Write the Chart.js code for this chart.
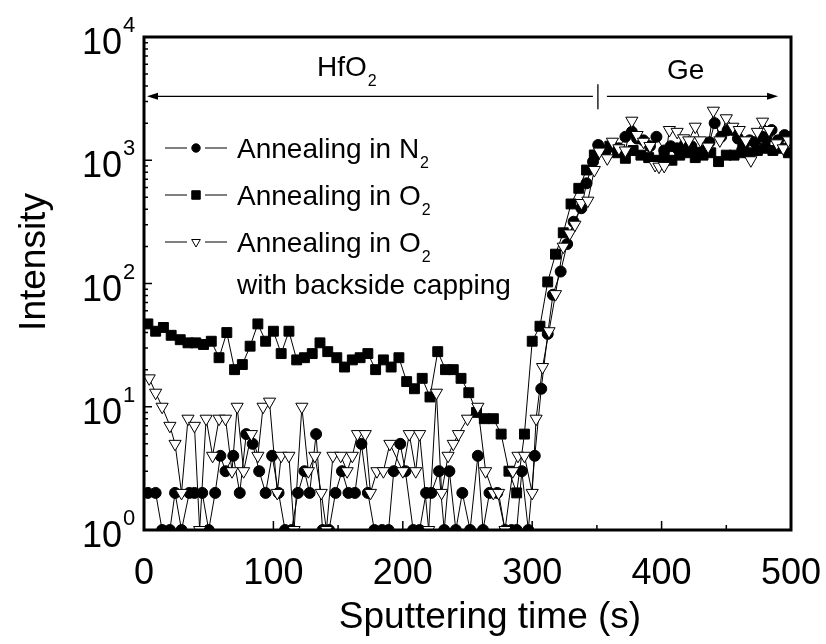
<!DOCTYPE html>
<html>
<head>
<meta charset="utf-8">
<title>Intensity vs sputtering time</title>
<script src="https://cdn.jsdelivr.net/npm/chart.js@4.4.1/dist/chart.umd.min.js"></script>
<style>
    html, body { margin: 0; padding: 0; background: #ffffff; }
    canvas { display: block; }
</style>
</head>
<body>
<canvas id="depth-profile-chart" width="826" height="644"></canvas>
<script>
// Annealing in N2 (filled circles)
const n2Time = [3, 9, 14, 20, 24, 29, 35, 39, 45, 50, 55, 59, 63, 69, 74, 79, 84, 89, 94, 99,
    104, 109, 114, 119, 124, 128, 133, 138, 143, 148, 153, 158, 163, 168, 173, 178, 184, 189, 193, 198,
    202, 208, 213, 218, 222, 228, 232, 236, 241, 246, 252, 258, 262, 267, 273, 279, 284, 288, 292, 297,
    302, 307, 312, 316, 322, 327, 332, 338, 342, 347, 351, 357, 362, 367, 372, 377, 381, 386, 391, 396,
    402, 407, 412, 418, 423, 428, 433, 437, 441, 446, 451, 455, 459, 463, 468, 472, 478, 481, 485, 490,
    495, 499];
const n2Values = [2, 2, 1, 1, 2, 1, 2, 2, 2, 1, 2, 4, 3, 4, 2, 6, 5, 3, 2, 4,
    2, 1, 1, 2, 3, 2, 6, 1, 1, 2, 3, 2, 2, 5, 2, 1, 1, 1, 3, 5,
    3, 1, 1, 2, 2, 3, 1, 3, 1, 2, 1, 4, 1, 2, 2, 1, 1, 1, 3, 1,
    4, 14, 39, 81, 125, 209, 317, 408, 650, 973, 1330, 1200, 1300, 1250, 1550, 1700, 1500, 1450, 1300, 1550,
    1200, 1300, 1250, 1350, 1300, 1150, 1200, 1400, 2000, 1550, 1750, 1760, 1500, 1300, 1450, 1400, 1550, 1500, 1760, 1450,
    1600, 1550];

// Annealing in O2 (filled squares)
const o2Time = [3, 9, 15, 21, 28, 34, 40, 46, 52, 58, 64, 70, 76, 82, 88, 94, 100, 106, 112, 118,
    124, 130, 136, 142, 149, 155, 161, 167, 173, 179, 185, 191, 197, 203, 209, 215, 221, 227, 233, 239,
    245, 251, 257, 263, 270, 276, 282, 288, 294, 300, 306, 312, 318, 324, 330, 336, 342, 348, 354, 360,
    366, 372, 378, 384, 390, 396, 402, 408, 414, 420, 426, 432, 438, 444, 450, 456, 462, 468, 474, 480,
    486, 492, 498];
const o2Values = [47, 41, 44, 38, 35, 33, 33, 32, 34, 25, 40, 20, 22, 31, 47, 34, 41, 27, 41, 24,
    25, 27, 33, 28, 25, 21, 24, 25, 27, 20, 24, 21, 25, 16, 14, 17, 12, 28, 20, 20,
    17, 13, 9, 8, 8, 6, 3, 2, 6, 34, 45, 103, 173, 258, 442, 592, 833, 1104, 1211, 1300,
    1150, 1037, 1200, 1100, 1050, 1000, 1050, 1000, 1100, 1150, 1050, 1100, 1150, 975, 1100, 1100, 1150, 1150, 1200, 1250,
    1200, 1250, 1150];

// Annealing in O2 with backside capping (open down triangles)
const capTime = [4, 9, 14, 20, 24, 29, 34, 39, 43, 48, 53, 58, 63, 68, 72, 77, 83, 88, 92, 97,
    103, 106, 112, 116, 122, 127, 132, 137, 141, 146, 152, 157, 161, 165, 171, 175, 180, 185, 190, 200,
    205, 210, 213, 220, 226, 230, 235, 239, 243, 250, 258, 264, 270, 274, 279, 285, 289, 294, 300, 303,
    308, 313, 318, 324, 329, 333, 338, 343, 348, 352, 358, 362, 367, 372, 377, 381, 386, 391, 395, 398,
    402, 406, 412, 417, 421, 426, 430, 436, 440, 445, 450, 455, 460, 465, 469, 474, 478, 483, 489, 494,
    498];
const capValues = [17, 13, 10, 7, 5, 2, 8, 7, 1, 8, 4, 8, 8, 3, 10, 3, 6, 4, 10, 11,
    2, 4, 4, 1, 10, 3, 4, 2, 1, 4, 4, 3, 4, 6, 6, 2, 3, 3, 5, 3,
    6, 3, 6, 1, 13, 2, 4, 5, 6, 8, 10, 3, 2, 2, 1, 3, 4, 4, 2, 8,
    21, 41, 82, 199, 255, 300, 450, 470, 833, 1175, 1037, 1414, 1250, 1200, 2094, 1603, 1414, 1306, 915, 887,
    900, 1760, 1700, 1507, 1450, 1872, 1450, 1290, 2523, 1450, 2190, 1870, 1760, 1450, 1000, 1700, 2056, 1760, 1371, 1250,
    1450];

// Оси
const xTicks = [0, 100, 200, 300, 400, 500];
const yExponents = [0, 1, 2, 3, 4];

// Границы слоёв для стрелок HfO2 / Ge
const layerBoundary = 350;
const arrowEnd = 490;
const arrowLevel = 3300;

const FONT = '"Liberation Sans", Arial, sans-serif';

/**
 * Превращает два массива в точки {x, y}
 */
function toPoints(times, values) {
    return times.map((t, i) => ({ x: t, y: values[i] }));
}

/**
 * Текст с подстрочным индексом (N2, O2, HfO2)
 */
function drawSubText(ctx, main, sub, x, y, size) {
    ctx.font = size + 'px ' + FONT;
    ctx.textAlign = 'left';
    ctx.textBaseline = 'alphabetic';
    ctx.fillText(main, x, y);
    const w = ctx.measureText(main).width;
    ctx.font = Math.round(size * 0.58) + 'px ' + FONT;
    ctx.fillText(sub, x + w + 1, y + 10);
}

/**
 * Рамка, засечки, подписи, стрелки и легенда
 */
const framePlugin = {
    id: 'frame',
    afterDraw(chart) {
        const ctx = chart.ctx;
        const area = chart.chartArea;
        const xs = chart.scales.x;
        const ys = chart.scales.y;

        ctx.save();
        ctx.fillStyle = '#000';
        ctx.strokeStyle = '#000';

        // засечки внутрь
        ctx.lineWidth = 1.5;
        ctx.beginPath();
        for (let v = 0; v <= 500; v += 50) {
            const px = xs.getPixelForValue(v);
            const len = v % 100 === 0 ? 9 : 5;
            ctx.moveTo(px, area.bottom);
            ctx.lineTo(px, area.bottom - len);
        }
        yExponents.forEach(k => {
            for (let m = 1; m <= 9; m++) {
                const v = m * Math.pow(10, k);
                if (v > 10000) break;
                const py = ys.getPixelForValue(v);
                const len = m === 1 ? 8 : 4;
                ctx.moveTo(area.left, py);
                ctx.lineTo(area.left + len, py);
            }
        });
        ctx.stroke();

        // рамка
        ctx.lineWidth = 3;
        ctx.strokeRect(area.left, area.top, area.right - area.left, area.bottom - area.top);

        // подписи оси X
        ctx.font = '36px ' + FONT;
        ctx.textAlign = 'center';
        ctx.textBaseline = 'alphabetic';
        xTicks.forEach(v => {
            ctx.fillText(String(v), xs.getPixelForValue(v), 584);
        });

        // подписи оси Y: 10^k
        yExponents.forEach(k => {
            const py = ys.getPixelForValue(Math.pow(10, k));
            ctx.font = '36px ' + FONT;
            ctx.textAlign = 'right';
            ctx.fillText('10', 122, py + 17);
            ctx.font = '22px ' + FONT;
            ctx.textAlign = 'left';
            ctx.fillText(String(k), 123, py - 5);
        });

        // названия осей
        ctx.font = '37px ' + FONT;
        ctx.textAlign = 'center';
        ctx.fillText('Sputtering time (s)', 490, 628);
        ctx.save();
        ctx.translate(45, 262);
        ctx.rotate(-Math.PI / 2);
        ctx.fillText('Intensity', 0, 0);
        ctx.restore();

        // стрелки слоёв
        const ay = ys.getPixelForValue(arrowLevel);
        const xb = xs.getPixelForValue(layerBoundary);
        const x0 = area.left + 3;
        const x1 = xs.getPixelForValue(arrowEnd);
        ctx.lineWidth = 1.3;
        ctx.beginPath();
        ctx.moveTo(x0 + 8, ay);
        ctx.lineTo(xb - 4, ay);
        ctx.moveTo(xb + 1, ay - 12);
        ctx.lineTo(xb + 1, ay + 13);
        ctx.moveTo(xb + 10, ay);
        ctx.lineTo(x1 - 8, ay);
        ctx.stroke();
        ctx.beginPath();
        ctx.moveTo(x0, ay);
        ctx.lineTo(x0 + 11, ay - 3.5);
        ctx.lineTo(x0 + 11, ay + 3.5);
        ctx.closePath();
        ctx.moveTo(x1, ay);
        ctx.lineTo(x1 - 11, ay - 3.5);
        ctx.lineTo(x1 - 11, ay + 3.5);
        ctx.closePath();
        ctx.fill();

        drawSubText(ctx, 'HfO', '2', 317, ay - 20, 28);
        ctx.font = '28px ' + FONT;
        ctx.textAlign = 'left';
        ctx.fillText('Ge', 667, ay - 17);

        // легенда
        const rows = [
            { style: 'circle', radius: 4.2, rotation: 0, fill: '#000', main: 'Annealing in N', sub: '2', y: 148 },
            { style: 'rect', radius: 6, rotation: 0, fill: '#000', main: 'Annealing in O', sub: '2', y: 195 },
            { style: 'triangle', radius: 5, rotation: 180, fill: '#fff', main: 'Annealing in O', sub: '2', y: 242 }
        ];
        rows.forEach(r => {
            ctx.lineWidth = 1;
            ctx.beginPath();
            ctx.moveTo(165, r.y);
            ctx.lineTo(187, r.y);
            ctx.moveTo(205, r.y);
            ctx.lineTo(227, r.y);
            ctx.stroke();
            ctx.fillStyle = r.fill;
            Chart.helpers.drawPoint(ctx, { pointStyle: r.style, radius: r.radius, rotation: r.rotation, borderWidth: 1 }, 196, r.y);
            ctx.fillStyle = '#000';
            drawSubText(ctx, r.main, r.sub, 237, r.y + 10, 28);
        });
        ctx.font = '28px ' + FONT;
        ctx.textAlign = 'left';
        ctx.fillText('with backside capping', 237, 294);

        ctx.restore();
    }
};

const ctx = document.getElementById('depth-profile-chart').getContext('2d');

const depthProfileChart = new Chart(ctx, {
    type: 'line',
    data: {
        datasets: [{
            label: 'Annealing in O2 with backside capping',
            data: toPoints(capTime, capValues),
            borderColor: '#000',
            borderWidth: 1,
            pointStyle: 'triangle',
            pointRotation: 180,
            pointRadius: 7,
            pointBackgroundColor: '#fff',
            pointBorderColor: '#000',
            pointBorderWidth: 1,
            order: 0
        }, {
            label: 'Annealing in N2',
            data: toPoints(n2Time, n2Values),
            borderColor: '#000',
            borderWidth: 1,
            pointStyle: 'circle',
            pointRadius: 5.5,
            pointBackgroundColor: '#000',
            pointBorderColor: '#000',
            pointBorderWidth: 1,
            order: 1
        }, {
            label: 'Annealing in O2',
            data: toPoints(o2Time, o2Values),
            borderColor: '#000',
            borderWidth: 1,
            pointStyle: 'rect',
            pointRadius: 7,
            pointBackgroundColor: '#000',
            pointBorderColor: '#000',
            pointBorderWidth: 1,
            order: 2
        }]
    },
    options: {
        responsive: false,
        animation: false,
        layout: {
            padding: { left: 144, top: 37, right: 35, bottom: 114 }
        },
        plugins: {
            legend: { display: false },
            tooltip: { enabled: false }
        },
        scales: {
            x: { type: 'linear', min: 0, max: 500, display: false },
            y: { type: 'logarithmic', min: 1, max: 10000, display: false }
        }
    },
    plugins: [framePlugin]
});
</script>
</body>
</html>
